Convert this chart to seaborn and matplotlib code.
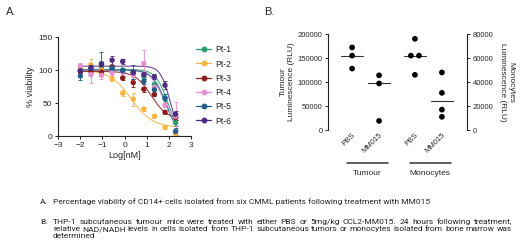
import numpy as np
import pandas as pd
import matplotlib
matplotlib.use("Agg")
import matplotlib.pyplot as plt
from matplotlib.lines import Line2D
import seaborn as sns

sns.set_style("white")
plt.rcParams['font.family'] = ['Liberation Sans', 'DejaVu Sans']

# ---------------- Panel A data ----------------
patients = ["Pt-1", "Pt-2", "Pt-3", "Pt-4", "Pt-5", "Pt-6"]
colors = ["#2a9d6f", "#f6b540", "#8e1b1b", "#e58fcf", "#1f5d8a", "#4e2a84"]
conc_nM = [0.0102, 0.0305, 0.0914, 0.274, 0.823, 2.47, 7.41, 22.2, 66.7, 200.0]

viab_pt1 = [100, 101, 103, 101, 100, 96, 90, 78, 58, 20]
viab_pt2 = [100, 108, 100, 87, 65, 56, 41, 30, 13, 3]
viab_pt3 = [98, 98, 97, 105, 88, 81, 71, 63, 36, 28]
viab_pt4 = [106, 93, 92, 96, 97, 92, 110, 74, 47, 30]
viab_pt5 = [91, 103, 110, 103, 99, 97, 83, 70, 57, 7]
viab_pt6 = [99, 104, 108, 115, 113, 96, 93, 90, 77, 33]

sem_pt1 = [3, 3, 3, 3, 3, 3, 3, 4, 5, 4]
sem_pt2 = [4, 8, 4, 3, 5, 10, 3, 3, 3, 2]
sem_pt3 = [3, 3, 3, 3, 3, 6, 4, 3, 3, 3]
sem_pt4 = [5, 12, 5, 3, 3, 5, 21, 4, 3, 21]
sem_pt5 = [6, 4, 18, 4, 3, 10, 4, 4, 7, 5]
sem_pt6 = [3, 3, 4, 7, 4, 4, 4, 4, 6, 5]

# 4-parameter logistic fit parameters: top, bottom, logIC50, hill
fit_top = [101, 100, 98, 100, 100, 106]
fit_bottom = [0, 13, 25, 20, 0, 0]
fit_logic50 = [1.95, 0.3, 1.2, 1.7, 1.85, 2.05]
fit_hill = [1.6, 0.9, 1.2, 1.5, 1.5, 2.0]

# ---------------- Panel B data ----------------
groups = ["Tumour", "Monocytes"]
treatments = ["PBS", "MM015"]
tumour_pbs = [172000, 155000, 128000]
tumour_mm015 = [114000, 97000, 19000]
mono_pbs = [76000, 62000, 62000, 46000]
mono_mm015 = [48000, 31000, 17000, 11000]

left_ticks = [0, 50000, 100000, 150000, 200000]
right_ticks = [0, 20000, 40000, 60000, 80000]

caption_a = ("Percentage viability of CD14+ cells isolated from six CMML patients "
             "following treatment with MM015")
caption_b_lines = [
    "THP-1 subcutaneous tumour mice were treated with either PBS or 5mg/kg CCL2-MM015. 24 hours following treatment,",
    "relative NAD/NADH levels in cells isolated from THP-1 subcutaneous tumors or monocytes isolated from bone marrow was",
    "determined",
]

fig = plt.figure(figsize=(5.2, 2.52), dpi=100)

# ================= Panel A =================
axA = fig.add_axes([0.1115, 0.46, 0.256, 0.393])
logx = np.log10(conc_nM)
viabs = [viab_pt1, viab_pt2, viab_pt3, viab_pt4, viab_pt5, viab_pt6]
sems = [sem_pt1, sem_pt2, sem_pt3, sem_pt4, sem_pt5, sem_pt6]
rows = []
for p, v, s in zip(patients, viabs, sems):
    for x, y, e in zip(logx, v, s):
        rows.append({"patient": p, "logx": x, "viab": y, "sem": e})
dfA = pd.DataFrame(rows)

xfit = np.linspace(-2.0, 2.32, 200)
crow = []
for p, t, b, ic, h in zip(patients, fit_top, fit_bottom, fit_logic50, fit_hill):
    yfit = b + (t - b) / (1 + 10 ** ((xfit - ic) * h))
    for x, y in zip(xfit, yfit):
        crow.append({"patient": p, "x": x, "y": y})
dfC = pd.DataFrame(crow)
pal = dict(zip(patients, colors))

sns.lineplot(data=dfC, x="x", y="y", hue="patient", palette=pal, ax=axA,
             legend=False, linewidth=0.8, alpha=0.85)
for p in patients:
    d = dfA[dfA.patient == p]
    axA.errorbar(d["logx"], d["viab"], yerr=d["sem"], fmt="none",
                 ecolor=pal[p], elinewidth=0.7, capsize=1.5, capthick=0.7, alpha=0.9)
sns.scatterplot(data=dfA, x="logx", y="viab", hue="patient", palette=pal, ax=axA,
                legend=False, s=15, edgecolor="none", zorder=5)

axA.set_xlim(-3, 3)
axA.set_ylim(0, 150)
axA.set_xticks([-3, -2, -1, 0, 1, 2, 3])
axA.set_yticks([0, 50, 100, 150])
axA.set_xlabel("Log[nM]", fontsize=6.5, labelpad=2)
axA.set_ylabel("% viability", fontsize=6.5, labelpad=2)
for sp in ["top", "right"]:
    axA.spines[sp].set_visible(False)
for sp in ["left", "bottom"]:
    axA.spines[sp].set_linewidth(0.8)
    axA.spines[sp].set_color("#222222")
axA.tick_params(axis="both", labelsize=6, length=2.5, width=0.7, pad=1.5,
                direction="out", bottom=True, left=True)

handles = [Line2D([0], [0], color=c, marker="o", markersize=3.2, linewidth=0.9)
           for c in colors]
axA.legend(handles, patients, loc="upper left", bbox_to_anchor=(1.0, 0.97),
           frameon=False, fontsize=6.3, handlelength=1.7, labelspacing=0.6,
           handletextpad=0.5, borderaxespad=0.2)

# ================= Panel B =================
axB = fig.add_axes([0.631, 0.484, 0.267, 0.381])
axB2 = axB.twinx()
positions = {("Tumour", "PBS"): 0.0, ("Tumour", "MM015"): 1.0,
             ("Monocytes", "PBS"): 2.33, ("Monocytes", "MM015"): 3.33}


def spread(vals, pos, width=0.15):
    xs = []
    seen = {}
    for v in vals:
        seen[v] = seen.get(v, 0) + 1
    counter = {}
    for v in vals:
        n = seen[v]
        k = counter.get(v, 0)
        counter[v] = k + 1
        off = 0 if n == 1 else (-width + 2 * width * k / (n - 1))
        xs.append(pos + off)
    return xs


bdata = [("Tumour", "PBS", tumour_pbs, axB), ("Tumour", "MM015", tumour_mm015, axB),
         ("Monocytes", "PBS", mono_pbs, axB2), ("Monocytes", "MM015", mono_mm015, axB2)]
for g, t, vals, ax in bdata:
    pos = positions[(g, t)]
    d = pd.DataFrame({"x": spread(vals, pos), "y": vals})
    sns.scatterplot(data=d, x="x", y="y", ax=ax, color="black", s=17,
                    edgecolor="none", legend=False, zorder=5)
    med = float(np.median(vals))
    ax.plot([pos - 0.42, pos + 0.42], [med, med], color="#333333", lw=0.8)

axB.set_xlim(-0.89, 4.26)
axB.set_ylim(0, 200000)
axB2.set_ylim(0, 80000)
axB.set_yticks(left_ticks)
axB2.set_yticks(right_ticks)
axB.set_yticklabels([str(v) for v in left_ticks])
axB2.set_yticklabels([str(v) for v in right_ticks])
axB.set_xticks(list(positions.values()))
axB.set_xticklabels([k[1] for k in positions.keys()], rotation=45, ha="right",
                    rotation_mode="anchor", fontsize=5.5)
axB.set_xlabel("")
axB.set_ylabel("Tumour\nLuminescence (RLU)", fontsize=6, labelpad=2)
axB2.set_ylabel("Monocytes\nLuminescence (RLU)", fontsize=6, rotation=270,
                labelpad=15)
axB2.set_xlabel("")
for ax in (axB, axB2):
    for sp in ["top", "bottom"]:
        ax.spines[sp].set_visible(False)
    for sp in ["left", "right"]:
        ax.spines[sp].set_linewidth(0.8)
        ax.spines[sp].set_color("#222222")
axB.spines["right"].set_visible(False)
axB2.spines["left"].set_visible(False)
axB.tick_params(axis="y", labelsize=5.5, length=2.5, width=0.7, pad=1.5, left=True)
axB2.tick_params(axis="y", labelsize=5.5, length=2.5, width=0.7, pad=1.5, right=True)
axB.tick_params(axis="x", length=0, pad=1)

# group bars under categories
for g, (a, b) in zip(groups, [(0.0, 1.0), (2.33, 3.33)]):
    axB.plot([a - 0.18, b + 0.33], [-0.345, -0.345], transform=axB.get_xaxis_transform(),
             color="#333333", lw=1.1, clip_on=False)
    axB.text((a + b) / 2 + 0.07, -0.42, g, transform=axB.get_xaxis_transform(),
             ha="center", va="top", fontsize=6)

# panel letters
fig.text(0.012, 0.952, "A.", fontsize=8, va="center", ha="left")
fig.text(0.508, 0.952, "B.", fontsize=8, va="center", ha="left")

# captions
W, H = 520.0, 252.0
cap_kw = dict(fontsize=6.0, family=["Roboto", "DejaVu Sans"], va="center", ha="left",
              color="#222222")
renderer = fig.canvas.get_renderer()


def justified(line, x0, x1, y):
    words = line.split(" ")
    texts = [fig.text(0, y, w, **cap_kw) for w in words]
    widths = [t.get_window_extent(renderer).width for t in texts]
    gap = (x1 - x0 - sum(widths)) / (len(words) - 1)
    x = x0
    for t, w in zip(texts, widths):
        t.set_x(x / W)
        x += w + gap


fig.text(40 / W, 1 - 202 / H, "A.", **cap_kw)
fig.text(53 / W, 1 - 202 / H, caption_a, **cap_kw)
fig.text(40 / W, 1 - 222 / H, "B.", **cap_kw)
justified(caption_b_lines[0], 53, 512, 1 - 222 / H)
justified(caption_b_lines[1], 53, 512, 1 - 229 / H)
fig.text(53 / W, 1 - 236 / H, caption_b_lines[2], **cap_kw)

fig.savefig("out.png", dpi=100, facecolor="white")
